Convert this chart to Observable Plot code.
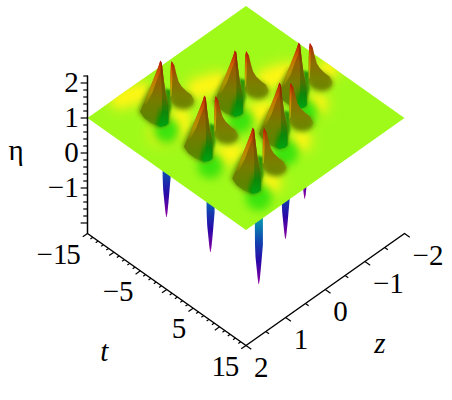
<!DOCTYPE html>
<html><head><meta charset="utf-8">
<script src="https://cdn.jsdelivr.net/npm/d3@7"></script>
<script src="https://cdn.jsdelivr.net/npm/@observablehq/plot@0.6"></script>
<style>html,body{margin:0;padding:0;background:#fff}svg{display:block}svg text{letter-spacing:-1.2px}</style>
</head><body><div id="chart"></div>
<script>
// pole positions, back to front
const peakT = [1.05, -3.9, -9.6, 4.6, -0.75, 8.1];
const peakZ = [-1.34, -0.39, 0.73, -0.38, 0.80, 0.76];
// plane corners
const planeT = [-15, -15, 15, 15];
const planeZ = [2, -2, -2, 2];
const planeEta = [1, 1, 1, 1];
// silhouettes: sideways offset (in t units, screen-horizontal) and eta
const leftH   = [-.57,-.43,-.28,-.09,.19,.19,-.57,-1.42,-2.08,-2.5,-1.95,-1.5,-1.0,-.71];
const leftEta = [2.2,2.14,1.74,1.3,.91,.4,.31,.4,.55,.74,1.11,1.46,1.83,2.06];
const leftBaseH   = [-.1,.19,.19,-.57,-1.42,-2.08,-2.65,-2.15,-1.5,-.6];
const leftBaseEta = [1.3,.9,.38,.3,.38,.53,.74,1.1,1.45,1.5];
const leftRimH   = [-.57,-.71,-1.0,-1.5,-1.95,-2.25,-1.85,-1.3,-.85,-.62,-.5];
const leftRimEta = [2.2,2.06,1.83,1.46,1.11,.92,.98,1.3,1.68,1.85,2.1];
const wallH   = [-.45,-.28,-.09,.19,.19,-.05,-.57,-.7,-.42,-.42,-.5];
const wallEta = [2.18,1.74,1.3,.91,.4,.34,.31,.34,.8,1.3,1.8];
const coreH   = [-.3,.15,.15,-.57,-1.0,-.7];
const coreEta = [1.0,.95,.4,.31,.36,.9];
const gapH   = [-.1,.45,.45,.1,-.1];
const gapEta = [1.4,1.35,.85,.5,.5];
const rightH   = [.5,.6,.76,.92,1.16,1.45,1.92,2.35,2.62,2.5,2.08,1.61,1.04,.57,.38,.38,.38,.43];
const rightEta = [2.18,2.14,2.06,1.85,1.6,1.46,1.32,1.22,1.06,.94,.86,.84,.88,.98,1.05,1.34,1.77,2.06];
const blobH   = [.45,1.2,2,2.45,2.68,2.5,2.05,1.6,1,.45];
const blobEta = [1.3,1.36,1.28,1.18,1.02,.9,.82,.8,.84,.95];
const rimH   = [.43,.5,.58,.56,.5,.38,.38];
const rimEta = [2.06,2.18,2.14,1.6,1.2,1.15,1.5];
const spikeH   = [-.4,.4,.4,.3,.2,.1,.02,-.02,-.1,-.2,-.3,-.35];
const spikeEta = [1,1,-1.15,-1.5,-1.85,-2.15,-2.27,-2.27,-2.1,-1.8,-1.5,-1.15];
// shading patches on the plane
const yellowT = [-13.95,-13.41,-14.5,-8,-7.46,-8.54,-5.5,-4.96,-6.04,.3,.84,-.24,2.9,3.44,2.36,-2.7,-2.16,-3.24,-6.3,4.8,8.2,11,1.2];
const yellowZ = [1.06,.88,1.24,-.095,-.275,.085,1.18,1,1.36,-.2,-.38,-.02,.95,.77,1.13,-1.16,-1.34,-.98,.82,-1.16,-.29,.84,-1.92];
const greenT = [-5.85,3,11.85,-.15,8.35,4.8];
const greenZ = [1.23,1.3,1.26,.11,.12,-.84];
// axes
const etaTicks = d3.range(-2, 2.3, .2).map(v => +v.toFixed(1));
const etaLabels = [2, 1, 0, -1];
const tTicks = d3.range(-15, 16, 1);
const tLabels = [-15, -5, 5, 15];
const zTicks = [2, 1.5, 1, .5, 0, -.5, -1, -1.5, -2];
const zLabels = [2, 1, 0, -1, -2];

const sx = (t, z) => 87 + (t + 15) * 158.5 / 30 + (2 - z) * 158.5 / 4;
const sy = (t, z, e) => 233 + (t + 15) * 112 / 30 - (2 - z) * 112 / 4 - (e + 2.3) * 35;
const px = d => sx(d.t, d.z), py = d => sy(d.t, d.z, d.eta);
const ZK = (158.5 / 30) / (158.5 / 4);
const num = v => (v < 0 ? "\u2212\u200a" : "") + Math.abs(v);

const shape = (i, H, E) => H.map((h, j) => ({t: peakT[i] + h, z: peakZ[i] - h * ZK, eta: E[j]}));
const poly = (rows, fill, extra = {}) => Plot.line(rows, {x: px, y: py, fill, stroke: "none", ...extra});
const blur = b => ({imageFilter: `blur(${b}px)`});

const plane = planeT.map((t, i) => ({t, z: planeZ[i], eta: planeEta[i]}));
const spikes = peakT.flatMap((_, i) => shape(i, spikeH, spikeEta).map(d => ({...d, id: i})));
const at = (T, Z) => T.map((t, i) => ({t, z: Z[i], eta: 1}));

const peakMarks = peakT.flatMap((_, i) => [
  poly(shape(i, gapH, gapEta), "#1f9808", blur(1)),
  poly(shape(i, blobH, blobEta), "#6f8400", blur(2.5)),
  poly(shape(i, leftBaseH, leftBaseEta), "#668a04", blur(2.5)),
  poly(shape(i, rightH, rightEta), "url(#gRight)"),
  poly(shape(i, rimH, rimEta), "url(#gRim)"),
  poly(shape(i, leftH, leftEta), "url(#gLeft)"),
  poly(shape(i, leftRimH, leftRimEta), "url(#gLeftRim)"),
  poly(shape(i, coreH, coreEta), "url(#gCore)", blur(1.5)),
  poly(shape(i, wallH, wallEta), "url(#gWall)")
]);

const hshift = (d, h) => ({t: d.t + h, z: d.z - h * ZK, eta: d.eta});
const link = (rows, tip, extra = {}) => Plot.link(rows, {
  x1: px, y1: py,
  x2: d => px(tip(d)), y2: d => py(tip(d)),
  stroke: "#000", strokeWidth: 1.2, ...extra
});
const etaRows = etaTicks.map(eta => ({t: -15, z: 2, eta}));
const tRows = tTicks.map(t => ({t, z: 2, eta: -2.3}));
const zRows = zTicks.map(z => ({t: 15, z, eta: -2.3}));
const axisLine = [{t: -15, z: 2, eta: 2.2}, {t: -15, z: 2, eta: -2.3}, {t: 15, z: 2, eta: -2.3}, {t: 15, z: -2, eta: -2.3}];
const label = (rows, text, o) => Plot.text(rows, {x: px, y: py, text, fontSize: 29, fill: "#000", stroke: "none", lineAnchor: "middle", ...o});

const chart = Plot.plot({
  width: 452, height: 400, margin: 0,
  x: {domain: [0, 452], range: [0, 452], axis: null},
  y: {domain: [0, 400], range: [0, 400], axis: null},
  style: {fontFamily: "'Liberation Serif', serif", background: "#fff"},
  marks: [
    Plot.line(spikes, {x: px, y: py, z: "id", fill: "url(#gSpike)", stroke: "none"}),
    poly(plane, "#9ffa1a"),
    Plot.dot(at(yellowT, yellowZ), {x: px, y: py, r: 12, fill: "#e4f41a", ...blur(7)}),
    Plot.dot(at(yellowT, yellowZ), {x: px, y: py, r: 7, fill: "#fff614", ...blur(4)}),
    Plot.dot(at(greenT, greenZ), {x: px, y: py, r: 13, fill: "#3ce40e", ...blur(4)}),
    ...peakMarks,
    Plot.line(axisLine, {x: px, y: py, stroke: "#000", strokeWidth: 1.5}),
    link(etaRows, d => hshift(d, Number.isInteger(d.eta) ? -.65 : -.4)),
    link(tRows, d => ({...d, z: d.z + (d.t % 5 === 0 ? .12 : .06)})),
    link(zRows, d => ({...d, t: d.t + (Number.isInteger(d.z) ? 1 : .6)})),
    label(etaLabels.map(eta => ({t: -15, z: 2, eta})), d => num(d.eta), {textAnchor: "end", dx: -10}),
    label(tLabels.map(t => ({t, z: 2, eta: -2.3})), d => num(d.t), {textAnchor: "end", dx: -8, dy: 21}),
    label(zLabels.map(z => ({t: 15, z, eta: -2.3})), d => num(d.z), {textAnchor: "start", dx: 8, dy: 22}),
    label([{t: -15, z: 2, eta: 0}], () => "\u03b7", {dx: -72, dy: -2}),
    label([{t: 0, z: 2, eta: -2.3}], () => "t", {fontStyle: "italic", dx: -63, dy: 62}),
    label([{t: 15, z: 0, eta: -2.3}], () => "z", {fontStyle: "italic", dx: 54, dy: 54})
  ]
});

const stops = (id, list) => `<linearGradient id="${id}" x1="0" y1="0" x2="0" y2="1">` +
  list.map(([o, c, a = 1]) => `<stop offset="${o}" stop-color="${c}" stop-opacity="${a}"/>`).join("") + `</linearGradient>`;
const ns = "http://www.w3.org/2000/svg";
const defs = document.createElementNS(ns, "defs");
defs.innerHTML =
  stops("gLeft", [[0,"#a80808"],[.1,"#a83400"],[.3,"#946000"],[.6,"#767c00"],[.85,"#5f8400"],[1,"#4f8800",.5]]) +
  stops("gLeftRim", [[0,"#c01000"],[.35,"#d87000",.75],[.7,"#d8b800",.5],[1,"#f0e800",0]]) +
  stops("gCore", [[0,"#108c00",0],[.5,"#108c00",.7],[1,"#009800",1]]) +
  stops("gWall", [[0,"#900c00"],[.3,"#7a5400"],[.55,"#5a6c00"],[.78,"#0e8608"],[1,"#00a410"]]) +
  stops("gRight", [[0,"#b00808"],[.14,"#a44000"],[.38,"#8c6a00"],[.72,"#7a8000"],[1,"#6f8400",0]]) +
  stops("gRim", [[0,"#c01000"],[.35,"#d86c00"],[.7,"#c8a000"],[1,"#a0c808",.7]]) +
  stops("gSpike", [[0,"#00c0a0"],[.45,"#0a90b0"],[.62,"#1048b0"],[.8,"#2808a8"],[1,"#9000a0"]]);
chart.prepend(defs);
const lines = chart.querySelectorAll('g[aria-label="line"]');
const planePath = lines[1].querySelector("path").getAttribute("d");
const clip = document.createElementNS(ns, "clipPath");
clip.setAttribute("id", "planeClip");
const cp = document.createElementNS(ns, "path");
cp.setAttribute("d", planePath);
clip.append(cp);
defs.append(clip);
chart.querySelectorAll('g[aria-label="dot"]').forEach(g => g.setAttribute("clip-path", "url(#planeClip)"));
document.getElementById("chart").append(chart);
</script>
</body></html>
